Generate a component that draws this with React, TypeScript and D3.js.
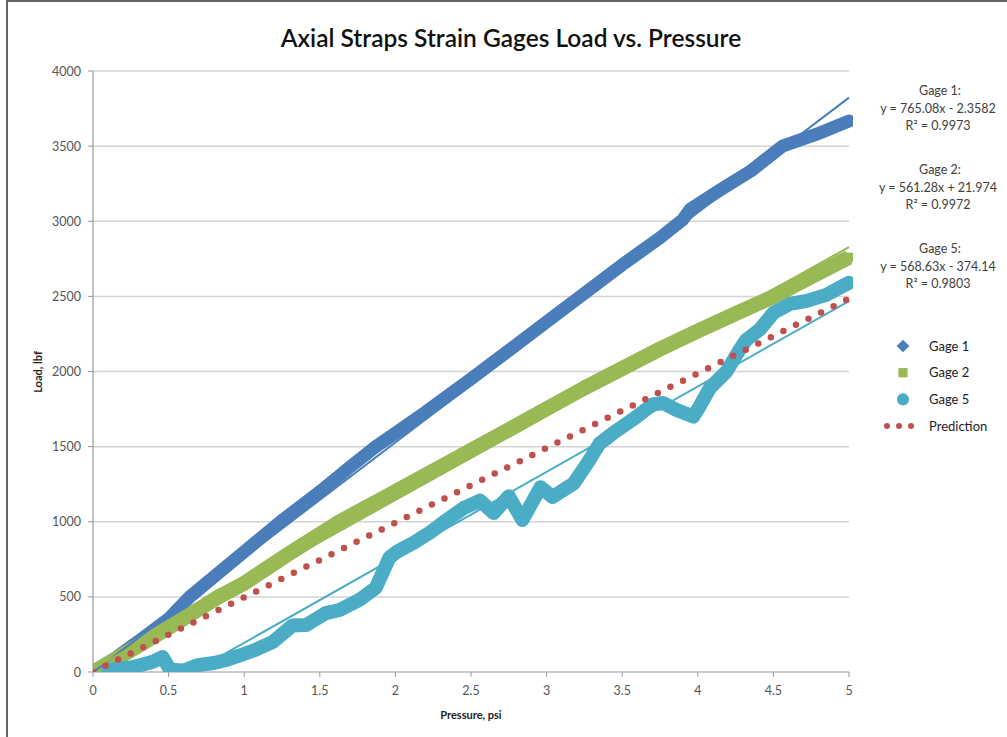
import React from "react";
import * as d3 from "d3";

// values
const gage1Pressure = [0, 0.15, 0.33, 0.5, 0.64, 0.82, 1.0, 1.24, 1.5, 1.7, 1.87, 2.0, 2.2, 2.49, 2.75, 3.0, 3.25, 3.5, 3.75, 3.9, 3.95, 4.15, 4.35, 4.56, 4.79, 5.0];
const gage1Load = [0, 95, 226, 355, 500, 650, 800, 1000, 1200, 1365, 1500, 1590, 1730, 1943, 2140, 2330, 2520, 2710, 2890, 3010, 3080, 3210, 3334, 3500, 3581, 3667];

const gage2Pressure = [0, 0.15, 0.33, 0.6, 0.83, 1.0, 1.3, 1.63, 1.9, 2.2, 2.5, 2.82, 3.0, 3.25, 3.5, 3.75, 4.0, 4.25, 4.48, 4.75, 5.0];
const gage2Load = [0, 85, 193, 355, 500, 590, 790, 1000, 1145, 1310, 1475, 1651, 1752, 1890, 2020, 2150, 2270, 2385, 2489, 2630, 2760];

const gage5Pressure = [0.1, 0.18, 0.25, 0.33, 0.4, 0.46, 0.51, 0.6, 0.69, 0.8, 0.88, 0.97, 1.08, 1.19, 1.32, 1.41, 1.54, 1.63, 1.76, 1.87, 1.96, 2.01, 2.12, 2.23, 2.34, 2.45, 2.56, 2.65, 2.75, 2.84, 2.96, 3.04, 3.18, 3.27, 3.35, 3.44, 3.57, 3.7, 3.77, 3.86, 3.97, 4.01, 4.08, 4.19, 4.28, 4.32, 4.41, 4.5, 4.61, 4.72, 4.85, 4.96, 5.0];
const gage5Load = [10, 25, 30, 50, 70, 100, 15, 10, 45, 60, 80, 110, 150, 200, 310, 313, 392, 413, 479, 560, 760, 800, 859, 930, 1012, 1090, 1140, 1058, 1170, 1012, 1230, 1165, 1256, 1390, 1520, 1590, 1680, 1780, 1790, 1744, 1700, 1764, 1890, 2000, 2150, 2210, 2280, 2390, 2450, 2470, 2510, 2570, 2590];

const predictionPressure = [0, 5];
const predictionLoad = [0, 2485];

const trendNames = ["Gage 1", "Gage 2", "Gage 5"];
const trendSlopes = [765.08, 561.28, 568.63];
const trendIntercepts = [-2.3582, 21.974, -374.14];
const trendR2 = ["0.9973", "0.9972", "0.9803"];
const trendLabels = ["y = 765.08x - 2.3582", "y = 561.28x + 21.974", "y = 568.63x - 374.14"];

const xTicks = [0, 0.5, 1, 1.5, 2, 2.5, 3, 3.5, 4, 4.5, 5];
const yTicks = [0, 500, 1000, 1500, 2000, 2500, 3000, 3500, 4000];

const legendNames = ["Gage 1", "Gage 2", "Gage 5", "Prediction"];

const W = 1007;
const H = 737;
const FONT = "Lato, 'Open Sans', sans-serif";

const BLUE = "#4a7ebb";
const GREEN = "#98b954";
const TEAL = "#4bacc6";
const RED = "#c0504d";

const x = d3.scaleLinear().domain([0, 5]).range([93, 849]);
const y = d3.scaleLinear().domain([0, 4000]).range([672, 71]);

const zip = (xs: number[], ys: number[]) => xs.map((v, i) => [v, ys[i]] as [number, number]);

const line = d3
  .line<[number, number]>()
  .x((d) => x(d[0]))
  .y((d) => y(d[1]));

const diamond = d3.symbol().type(d3.symbolSquare).size(80);
const square = d3.symbol().type(d3.symbolSquare).size(85);
const circle = d3.symbol().type(d3.symbolCircle).size(115);

export default function App() {
  const g1 = zip(gage1Pressure, gage1Load);
  const g2 = zip(gage2Pressure, gage2Load);
  const g5 = zip(gage5Pressure, gage5Load);
  const pred = zip(predictionPressure, predictionLoad);
  const trendColors = [BLUE, GREEN, TEAL];

  return (
    <svg
      width={W}
      height={H}
      style={{ position: "absolute", left: 0, top: 0, background: "white" }}
      fontFamily={FONT}
    >
      <defs>
        <clipPath id="plot">
          <rect x={93} y={66} width={760} height={606} />
        </clipPath>
      </defs>
      {/* chart frame */}
      <rect x={7} y={1} width={W + 20} height={H + 20} fill="white" stroke="#404040" strokeWidth={1.6} />

      <text x={511} y={47} textAnchor="middle" fontSize={24.5} fontWeight={600} fill="#111">
        Axial Straps Strain Gages Load vs. Pressure
      </text>

      {/* gridlines */}
      {yTicks.filter((t) => t > 0).map((t) => (
        <line key={t} x1={x(0)} x2={x(5)} y1={y(t)} y2={y(t)} stroke="#d4d4d4" strokeWidth={1.5} />
      ))}

      {/* axes */}
      <line x1={x(0)} x2={x(0)} y1={y(0)} y2={y(4000)} stroke="#9a9a9a" strokeWidth={1.2} />
      <line x1={x(0)} x2={x(5)} y1={y(0)} y2={y(0)} stroke="#9a9a9a" strokeWidth={1.2} />
      {yTicks.map((t) => (
        <g key={t}>
          <line x1={x(0) - 5} x2={x(0)} y1={y(t)} y2={y(t)} stroke="#9a9a9a" />
          <text x={81} y={y(t) + 4.5} textAnchor="end" fontSize={12.5} fill="#555">
            {t}
          </text>
        </g>
      ))}
      {xTicks.map((t) => (
        <g key={t}>
          <line x1={x(t)} x2={x(t)} y1={y(0)} y2={y(0) + 5} stroke="#9a9a9a" />
          <text x={x(t)} y={695} textAnchor="middle" fontSize={12.5} fill="#555">
            {d3.format("")(t)}
          </text>
        </g>
      ))}
      <text x={471} y={719} textAnchor="middle" fontSize={11} fontWeight={700} fill="#222">
        Pressure, psi
      </text>
      <text transform="translate(42,372) rotate(-90)" textAnchor="middle" fontSize={11} fontWeight={700} fill="#222">
        Load, lbf
      </text>

      <g clipPath="url(#plot)">
        {/* Gage 1 */}
        <path d={line(g1) || ""} fill="none" stroke={BLUE} strokeWidth={13} strokeLinejoin="round" strokeLinecap="round" />
        {g1.map((d, i) => (
          <path key={i} d={diamond() || ""} transform={`translate(${x(d[0])},${y(d[1])}) rotate(45)`} fill={BLUE} />
        ))}
        {/* Gage 2 */}
        <path d={line(g2) || ""} fill="none" stroke={GREEN} strokeWidth={15} strokeLinejoin="round" />
        {g2.map((d, i) => (
          <path key={i} d={square() || ""} transform={`translate(${x(d[0])},${y(d[1])})`} fill={GREEN} />
        ))}
        {/* Gage 5 */}
        <path d={line(g5) || ""} fill="none" stroke={TEAL} strokeWidth={14} strokeLinejoin="round" strokeLinecap="round" />
        {g5.map((d, i) => (
          <path key={i} d={circle() || ""} transform={`translate(${x(d[0])},${y(d[1])})`} fill={TEAL} />
        ))}

        {/* linear trendlines */}
        {trendSlopes.map((m, i) => (
          <line
            key={i}
            x1={x(0)}
            x2={x(5)}
            y1={y(trendIntercepts[i])}
            y2={y(m * 5 + trendIntercepts[i])}
            stroke={trendColors[i]}
            strokeWidth={2}
          />
        ))}

        {/* Prediction */}
        <path d={line(pred) || ""} fill="none" stroke={RED} strokeWidth={6.5} strokeDasharray="0 14" strokeLinecap="round" />
      </g>

      {/* trendline equations */}
      {trendNames.map((n, i) => (
        <g key={n} fontSize={12.5} fill="#404040" textAnchor="middle">
          <text x={940} y={95 + i * 79}>{n}:</text>
          <text x={938} y={113 + i * 79}>{trendLabels[i]}</text>
          <text x={938} y={130 + i * 79}>
            R² = {trendR2[i]}
          </text>
        </g>
      ))}

      {/* legend */}
      {legendNames.map((n, i) => {
        const ly = 346 + i * 26.7;
        return (
          <g key={n}>
            {i === 0 && <path d={diamond() || ""} transform={`translate(903,${ly}) rotate(45)`} fill={BLUE} />}
            {i === 1 && <path d={square() || ""} transform={`translate(903,${ly})`} fill={GREEN} />}
            {i === 2 && <path d={circle() || ""} transform={`translate(903,${ly})`} fill={TEAL} />}
            {i === 3 && (
              <line x1={887} x2={923} y1={ly} y2={ly} stroke={RED} strokeWidth={6} strokeDasharray="0 12" strokeLinecap="round" />
            )}
            <text x={929} y={ly + 4.5} fontSize={13} fill="#222">
              {n}
            </text>
          </g>
        );
      })}
    </svg>
  );
}
